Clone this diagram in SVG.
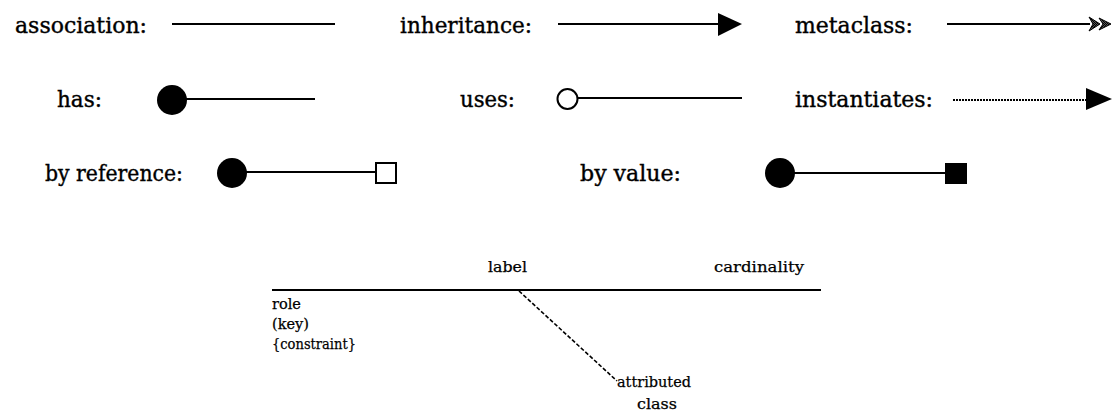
<svg xmlns="http://www.w3.org/2000/svg" width="1120" height="420" viewBox="0 0 1120 420">
  <style>
    text { font-family: "DejaVu Serif", "Liberation Serif", "Times New Roman", serif; fill: #000; stroke: #000; }
    .lbl { font-size: 23px; stroke-width: 0.4; }
    .sm { font-size: 15px; stroke-width: 0.25; }
    .ln { stroke: #000; stroke-width: 2.2; fill: none; }
    .dot { stroke: #000; stroke-width: 2.2; fill: none; stroke-dasharray: 2 1; }
    .dash { stroke: #000; stroke-width: 1.6; fill: none; stroke-dasharray: 4 2; }
  </style>
  <defs>
    <pattern id="hatch" width="2" height="2" patternUnits="userSpaceOnUse">
      <rect width="2" height="2" fill="#555"/>
      <rect width="1" height="1" fill="#000"/>
      <rect x="1" y="1" width="1" height="1" fill="#000"/>
    </pattern>
  </defs>

  <g id="labels">
    <text class="lbl" x="15" y="33" textLength="132" lengthAdjust="spacingAndGlyphs">association:</text>
    <text class="lbl" x="400" y="33" textLength="132" lengthAdjust="spacingAndGlyphs">inheritance:</text>
    <text class="lbl" x="795" y="33" textLength="118" lengthAdjust="spacingAndGlyphs">metaclass:</text>
    <text class="lbl" x="57" y="107" textLength="45" lengthAdjust="spacingAndGlyphs">has:</text>
    <text class="lbl" x="460" y="107" textLength="55" lengthAdjust="spacingAndGlyphs">uses:</text>
    <text class="lbl" x="795" y="107" textLength="138" lengthAdjust="spacingAndGlyphs">instantiates:</text>
    <text class="lbl" x="45" y="181" textLength="138" lengthAdjust="spacingAndGlyphs">by reference:</text>
    <text class="lbl" x="580" y="181" textLength="101" lengthAdjust="spacingAndGlyphs">by value:</text>
  </g>

  <g id="connectors">
    <!-- association -->
    <line class="ln" x1="172" y1="24" x2="335" y2="24"/>
    <!-- inheritance -->
    <line class="ln" x1="558" y1="24" x2="720" y2="24"/>
    <polygon points="718,13 742,24 718,36" fill="#000"/>
    <!-- metaclass: double hatched chevron -->
    <line class="ln" x1="947" y1="24" x2="1090" y2="24"/>
    <polygon points="1089,17 1100,24 1089,31 1093,24" fill="url(#hatch)" stroke="#000" stroke-width="1"/>
    <polygon points="1099,18 1111,24 1099,30 1103,24" fill="url(#hatch)" stroke="#000" stroke-width="1"/>
    <!-- has -->
    <circle cx="172" cy="100" r="15" fill="#000"/>
    <line class="ln" x1="186" y1="99" x2="315" y2="99"/>
    <!-- uses -->
    <circle cx="567.5" cy="99" r="10" fill="#fff" stroke="#000" stroke-width="2"/>
    <line class="ln" x1="577" y1="98" x2="742" y2="98"/>
    <!-- instantiates -->
    <line class="dot" x1="953" y1="100" x2="1088" y2="100"/>
    <polygon points="1086,88 1112,99 1086,110" fill="#000"/>
    <!-- by reference -->
    <circle cx="232" cy="173" r="15" fill="#000"/>
    <line class="ln" x1="246" y1="172" x2="376" y2="172"/>
    <rect x="376" y="163" width="20" height="20" fill="#fff" stroke="#000" stroke-width="2"/>
    <!-- by value -->
    <circle cx="780" cy="173" r="15" fill="#000"/>
    <line class="ln" x1="794" y1="173" x2="946" y2="173"/>
    <rect x="945" y="163" width="22" height="21" fill="#000"/>
  </g>

  <g id="association-anatomy">
    <line class="ln" x1="272" y1="290" x2="821" y2="290"/>
    <line class="dash" x1="519" y1="291" x2="617" y2="381"/>
    <text class="sm" x="488" y="272" textLength="39" lengthAdjust="spacingAndGlyphs">label</text>
    <text class="sm" x="714" y="272" textLength="90" lengthAdjust="spacingAndGlyphs">cardinality</text>
    <text class="sm" x="272" y="309" textLength="29" lengthAdjust="spacingAndGlyphs">role</text>
    <text class="sm" x="272" y="329" textLength="37" lengthAdjust="spacingAndGlyphs">(key)</text>
    <text class="sm" x="272" y="349" textLength="84" lengthAdjust="spacingAndGlyphs">{constraint}</text>
    <text class="sm" x="617" y="387" textLength="74" lengthAdjust="spacingAndGlyphs">attributed</text>
    <text class="sm" x="637" y="409" textLength="40" lengthAdjust="spacingAndGlyphs">class</text>
  </g>
</svg>
